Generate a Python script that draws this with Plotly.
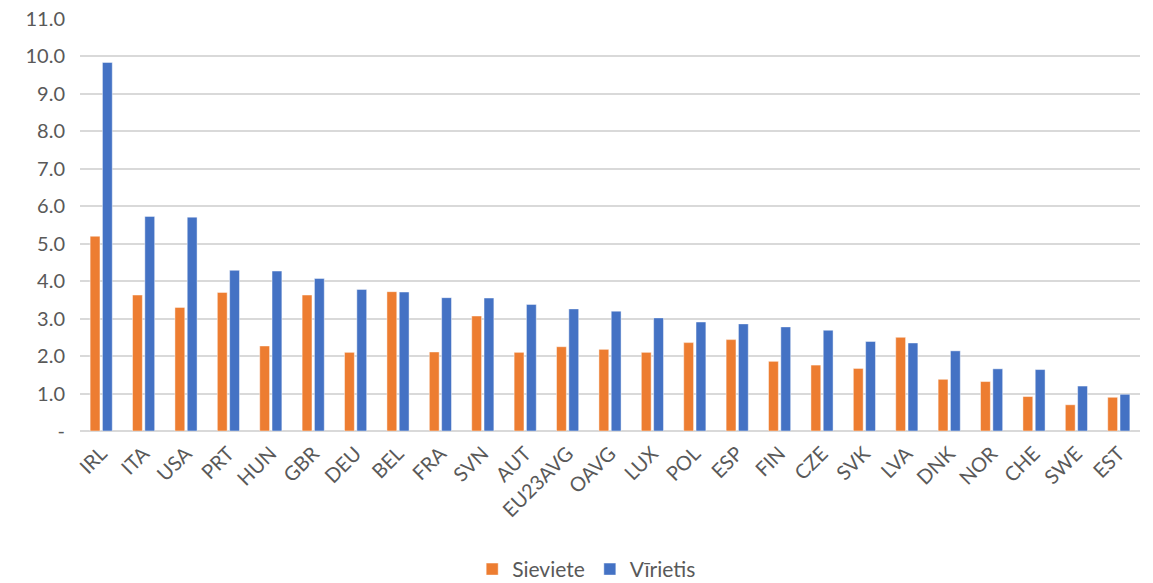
import plotly.graph_objects as go

categories = ["IRL", "ITA", "USA", "PRT", "HUN", "GBR", "DEU", "BEL", "FRA", "SVN", "AUT",
              "EU23AVG", "OAVG", "LUX", "POL", "ESP", "FIN", "CZE", "SVK", "LVA", "DNK",
              "NOR", "CHE", "SWE", "EST"]
sieviete = [5.20, 3.63, 3.30, 3.70, 2.27, 3.63, 2.10, 3.72, 2.11, 3.07, 2.10,
            2.25, 2.18, 2.10, 2.36, 2.44, 1.86, 1.76, 1.67, 2.50, 1.38,
            1.32, 0.92, 0.70, 0.90]
virietis = [9.84, 5.73, 5.71, 4.29, 4.27, 4.07, 3.78, 3.71, 3.56, 3.55, 3.38,
            3.26, 3.20, 3.02, 2.91, 2.86, 2.78, 2.69, 2.39, 2.35, 2.14,
            1.66, 1.64, 1.20, 0.98]
series_names = ["Sieviete", "Vīrietis"]
y_tickvals = [0, 1, 2, 3, 4, 5, 6, 7, 8, 9, 10, 11]
y_ticktext = ["-", "1.0", "2.0", "3.0", "4.0", "5.0", "6.0", "7.0", "8.0", "9.0", "10.0", "11.0"]

font_family = "Lato, Carlito, 'Noto Sans', sans-serif"
text_color = "#595959"

fig = go.Figure()
fig.add_trace(go.Bar(x=categories, y=sieviete, name=series_names[0],
                     marker=dict(color="#ED7D31", line=dict(color="rgba(255,255,255,0.6)", width=0.75))))
fig.add_trace(go.Bar(x=categories, y=virietis, name=series_names[1],
                     marker=dict(color="#4472C4", line=dict(color="rgba(255,255,255,0.6)", width=0.75))))

fig.update_layout(
    width=1153, height=583,
    margin=dict(l=80, r=13, t=19, b=152, autoexpand=False),
    paper_bgcolor="white", plot_bgcolor="white",
    barmode="group", bargap=0.42, bargroupgap=0.2,
    font=dict(family=font_family, size=20, color=text_color),
    showlegend=True,
    legend=dict(orientation="h", x=0.478, xanchor="center", y=-0.336, yanchor="middle",
                font=dict(size=21, color=text_color), traceorder="normal",
                itemwidth=30, tracegroupgap=0),
    xaxis=dict(tickangle=-45, showgrid=False, showline=False, ticks="", automargin=False,
               ticklabelstandoff=6,
               tickfont=dict(size=20, color=text_color)),
    yaxis=dict(range=[0, 11], tickvals=y_tickvals, ticktext=y_ticktext, automargin=False,
               showgrid=True, gridcolor="#d9d9d9", gridwidth=1.5,
               zeroline=True, zerolinecolor="#d9d9d9", zerolinewidth=1.5,
               showline=False, ticks="", ticklabelstandoff=14,
               tickfont=dict(size=20, color=text_color)),
)

fig.write_html("out.html")
